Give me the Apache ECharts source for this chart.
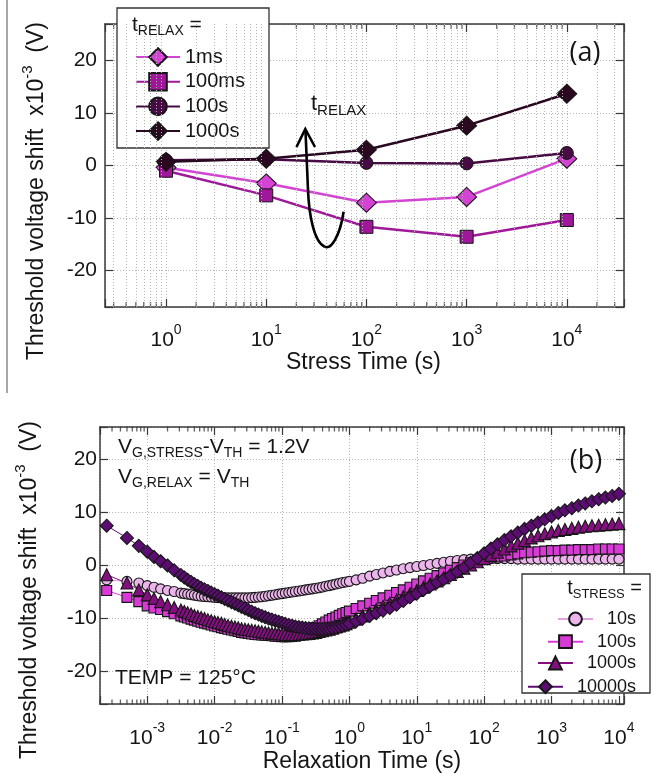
<!DOCTYPE html>
<html>
<head>
<meta charset="utf-8">
<title>Threshold voltage shift vs stress / relaxation time</title>
<script src="https://cdn.jsdelivr.net/npm/echarts@6/dist/echarts.min.js"></script>
<style>
  html, body { margin: 0; padding: 0; background: #fff; }
  #chart { width: 656px; height: 774px; }
</style>
</head>
<body>
<div id="chart"></div>
<script>
  var FONT = '"Liberation Sans", Arial, Helvetica, sans-serif'
  var INK = '#151515'

  // ---- (a) shift vs stress time, one line per relax time ----
  var STRESS_TIME = [1, 10, 100, 1000, 10000]
  var RELAX_1MS = [-0.4, -3.4, -7.1, -6.0, 1.3]
  var RELAX_100MS = [-1.0, -5.7, -11.7, -13.6, -10.4]
  var RELAX_100S = [1.0, 1.2, 0.5, 0.4, 2.4]
  var RELAX_1000S = [0.7, 1.3, 3.0, 7.6, 13.7]

  // ---- (b) shift vs relaxation time, one curve per stress time ----
  var RELAX_TIME = [
    2.5e-4, 5e-4, 7.5e-4, 1e-3, 1.26e-3, 1.58e-3, 2.0e-3, 2.51e-3,
    3.16e-3, 3.55e-3, 3.98e-3, 4.47e-3, 5.01e-3, 5.62e-3, 6.31e-3, 7.08e-3, 7.94e-3, 8.91e-3,
    0.01, 0.0112, 0.0126, 0.0141, 0.0158, 0.0178, 0.02, 0.0224, 0.0251, 0.0282,
    0.0316, 0.0355, 0.0398, 0.0447, 0.0501, 0.0562, 0.0631, 0.0708, 0.0794, 0.0891,
    0.1, 0.112, 0.126, 0.141, 0.158, 0.178, 0.2, 0.224, 0.251, 0.282,
    0.316, 0.355, 0.398, 0.447, 0.501, 0.562, 0.631, 0.708, 0.794, 0.891,
    1,
    1.26, 1.58, 2.0, 2.51, 3.16, 3.98, 5.01, 6.31, 7.94, 10,
    12.6, 15.8, 20, 25.1, 31.6, 39.8, 50.1, 63.1, 79.4, 100,
    126, 158, 200, 251, 316, 398, 501, 631, 794, 1000,
    1260, 1580, 2000, 2510, 3160, 3980, 5010, 6310, 7940, 10000
  ]
  var STRESS_10S = [
    -2.7, -3.0, -3.3, -3.8, -4.1, -4.4, -4.7, -4.9,
    -5.2, -5.3, -5.4, -5.5, -5.6, -5.7, -5.8, -5.85, -5.9, -5.95,
    -6.0, -6.05, -6.1, -6.1, -6.1, -6.1, -6.1, -6.1, -6.1, -6.1,
    -6.1, -6.05, -6.0, -5.95, -5.9, -5.8, -5.7, -5.6, -5.5, -5.4,
    -5.3, -5.2, -5.1, -5.0, -4.9, -4.8, -4.7, -4.6, -4.5, -4.4,
    -4.3, -4.2, -4.05, -3.9, -3.8, -3.65, -3.5, -3.35, -3.2, -3.1,
    -3.0,
    -2.7, -2.4, -2.0, -1.7, -1.4, -1.1, -0.85, -0.6, -0.4, -0.2,
    0.0, 0.2, 0.4, 0.6, 0.8, 0.95, 1.1, 1.2, 1.3, 1.3,
    1.3, 1.3, 1.3, 1.3, 1.2, 1.2, 1.2, 1.2, 1.2, 1.2,
    1.2, 1.2, 1.2, 1.2, 1.2, 1.2, 1.2, 1.2, 1.2, 1.2
  ]
  var STRESS_100S = [
    -4.7, -6.0, -6.8, -7.6, -8.0, -8.3, -8.7, -9.1,
    -9.5, -9.7, -9.9, -10.1, -10.3, -10.5, -10.7, -10.85, -11.0, -11.2,
    -11.4, -11.55, -11.7, -11.85, -12.0, -12.15, -12.3, -12.45, -12.6, -12.7,
    -12.8, -12.9, -13.0, -13.05, -13.1, -13.15, -13.2, -13.25, -13.3, -13.35,
    -13.4, -13.4, -13.4, -13.35, -13.3, -13.1, -12.9, -12.6, -12.3, -12.0,
    -11.7, -11.35, -11.0, -10.65, -10.3, -10.0, -9.7, -9.4, -9.1, -8.85,
    -8.6,
    -8.1, -7.6, -7.1, -6.6, -6.1, -5.6, -5.1, -4.6, -4.1, -3.5,
    -2.9, -2.4, -1.9, -1.4, -0.9, -0.4, 0.1, 0.5, 0.9, 1.2,
    1.4, 1.6, 1.8, 2.0, 2.2, 2.4, 2.5, 2.6, 2.7, 2.8,
    2.8, 2.9, 2.9, 3.0, 3.0, 3.0, 3.1, 3.1, 3.1, 3.1
  ]
  var STRESS_1000S = [
    -1.75, -3.3, -4.6, -5.5, -6.2, -6.8, -7.4, -7.9,
    -8.4, -8.65, -8.9, -9.15, -9.4, -9.6, -9.8, -10.0, -10.2, -10.4,
    -10.6, -10.75, -10.9, -11.1, -11.3, -11.45, -11.6, -11.75, -11.9, -12.0,
    -12.1, -12.2, -12.3, -12.4, -12.5, -12.6, -12.7, -12.75, -12.8, -12.85,
    -12.9, -12.95, -13.0, -13.0, -13.0, -12.95, -12.9, -12.85, -12.8, -12.7,
    -12.6, -12.45, -12.3, -12.15, -12.0, -11.8, -11.6, -11.4, -11.2, -10.95,
    -10.7,
    -10.1, -9.5, -8.9, -8.3, -7.7, -7.1, -6.5, -5.9, -5.3, -4.7,
    -4.1, -3.5, -2.9, -2.3, -1.7, -1.1, -0.5, 0.1, 0.7, 1.3,
    1.9, 2.5, 3.1, 3.7, 4.2, 4.7, 5.2, 5.6, 6.0, 6.3,
    6.6, 6.8, 7.0, 7.2, 7.4, 7.5, 7.6, 7.7, 7.8, 7.9
  ]
  var STRESS_10000S = [
    7.5, 5.2, 3.7, 2.6, 1.6, 0.8, 0.0, -0.9,
    -1.8, -2.25, -2.7, -3.1, -3.5, -3.85, -4.2, -4.5, -4.8, -5.1,
    -5.4, -5.7, -6.0, -6.3, -6.6, -6.9, -7.2, -7.5, -7.8, -8.1,
    -8.4, -8.7, -9.0, -9.25, -9.5, -9.75, -10.0, -10.2, -10.4, -10.6,
    -10.8, -11.0, -11.2, -11.35, -11.5, -11.6, -11.7, -11.8, -11.85, -11.9,
    -11.95, -11.95, -11.95, -11.9, -11.85, -11.75, -11.65, -11.5, -11.35, -11.15,
    -10.95,
    -10.5, -10.0, -9.5, -9.0, -8.5, -8.0, -7.4, -6.7, -6.0, -5.3,
    -4.6, -3.9, -3.2, -2.6, -1.9, -1.2, -0.4, 0.5, 1.4, 2.3,
    3.2, 4.0, 4.8, 5.5, 6.2, 6.9, 7.5, 8.1, 8.7, 9.3,
    9.9, 10.4, 10.8, 11.3, 11.7, 12.1, 12.5, 12.8, 13.1, 13.5
  ]

  // axis ranges and minor tick mantissas
  var TOP_X = [0.246, 37200]
  var TOP_Y = [-27, 27]
  var BOT_X = [1.99e-4, 11900]
  var BOT_Y = [-26.1, 26.1]
  var MINOR_MANTISSA = [2, 3, 4, 5, 6, 7, 8, 9]

  function pairs(xs, ys) {
    return xs.map(function (x, i) { return [x, ys[i]] })
  }

  function minorValues(range) {
    var out = []
    for (var e = -5; e <= 5; e++) {
      MINOR_MANTISSA.forEach(function (m) {
        var v = +(m * Math.pow(10, e)).toPrecision(3)
        if (v > range[0] && v < range[1]) out.push(v)
      })
    }
    return out
  }

  // only label whole decades, as 10^n
  function logLabel(v) {
    var e = Math.round(Math.log(v) / Math.LN10)
    var p = Math.pow(10, e)
    if (Math.abs(p - v) > p * 1e-6) return ''
    return '{b|10}{s|' + e + '}'
  }

  function tenLabel(v) {
    return Math.abs(v % 10) < 1e-9 ? String(Math.round(v)) : ''
  }

  var gridLine = { show: true, lineStyle: { color: '#b4b4b4', type: [1, 2], width: 1 } }
  var axisLine = { show: true, onZero: false, lineStyle: { color: '#3a3a3a', width: 1.5 } }
  var majorTick = { show: true, inside: true, length: 8, lineStyle: { color: '#3a3a3a', width: 1.2 } }
  var labelRich = {
    b: { fontSize: 21, lineHeight: 34, fontFamily: FONT, color: INK },
    s: { fontSize: 14, lineHeight: 14, verticalAlign: 'top', fontFamily: FONT, color: INK }
  }

  function logAxis(grid, range, pos, margin, labels, split) {
    return {
      type: 'log', gridIndex: grid, position: pos, min: range[0], max: range[1],
      axisLine: axisLine, axisTick: majorTick,
      splitLine: split ? gridLine : { show: false },
      axisLabel: labels ? { show: true, interval: 0, margin: margin, formatter: logLabel, rich: labelRich } : { show: false }
    }
  }

  function valueAxis(grid, range, pos, margin, labels) {
    return {
      type: 'value', gridIndex: grid, position: pos, min: range[0], max: range[1],
      axisLine: axisLine, axisTick: majorTick,
      splitLine: labels ? gridLine : { show: false },
      axisLabel: labels ? { show: true, margin: margin, formatter: tenLabel, fontSize: 21, color: INK, fontFamily: FONT } : { show: false }
    }
  }

  // small inward minor ticks along the bottom/top borders (+ optional minor gridlines)
  function tickSeries(xi, yi, xs, y, offset, withGrid) {
    var s = {
      type: 'scatter', xAxisIndex: xi, yAxisIndex: yi, silent: true, clip: false, z: 1,
      symbol: 'rect', symbolSize: [1.3, 5], symbolOffset: [0, offset],
      itemStyle: { color: '#3a3a3a' },
      data: xs.map(function (x) { return [x, y] })
    }
    if (withGrid) {
      s.markLine = {
        silent: true, symbol: ['none', 'none'], label: { show: false },
        lineStyle: { color: '#b4b4b4', type: [1, 2], width: 1 },
        data: xs.map(function (x) { return { xAxis: x } })
      }
    }
    return s
  }

  function lineSeries(name, xi, yi, data, symbol, size, color, lineColor, lineWidth, border) {
    return {
      name: name, type: 'line', xAxisIndex: xi, yAxisIndex: yi, data: data,
      symbol: symbol, symbolSize: size, z: 3,
      lineStyle: { color: lineColor, width: lineWidth },
      itemStyle: { color: color, borderColor: '#161616', borderWidth: border }
    }
  }

  function bottomLegend(name, top) {
    return {
      right: 15, top: top, orient: 'vertical', selectedMode: false,
      itemWidth: 35, itemHeight: 16,
      textStyle: { fontSize: 18, lineHeight: 18, color: INK, fontFamily: FONT, padding: [0, 0, 0, 9] },
      formatter: function (n) { return n.replace('stress ', '') },
      data: [name]
    }
  }

  function plainText(x, y, text, size, align) {
    return { type: 'text', z: 6, x: x, y: y, style: {
      text: text, fontSize: size, fontFamily: FONT, fill: INK, align: align, verticalAlign: 'middle'
    } }
  }

  function subText(x, y, main, sub, tail, size, subSize, align) {
    return { type: 'text', z: 6, x: x, y: y, style: {
      text: '{m|' + main + '}{s|' + sub + '}' + (tail ? '{m|' + tail + '}' : ''),
      align: align, verticalAlign: 'middle', fontFamily: FONT, fill: INK,
      rich: {
        m: { fontSize: size, lineHeight: size + 6, fontFamily: FONT, fill: INK },
        s: { fontSize: subSize, lineHeight: subSize, verticalAlign: 'bottom', fontFamily: FONT, fill: INK }
      }
    } }
  }

  function yTitle(x, y) {
    return { type: 'text', z: 6, x: x, y: y, rotation: Math.PI / 2, style: {
      text: 'Threshold voltage shift  x10{s|-3}  (V)', fontSize: 23, lineHeight: 34,
      fontFamily: FONT, fill: INK, align: 'center', verticalAlign: 'middle',
      rich: { s: { fontSize: 15, lineHeight: 15, verticalAlign: 'top', fontFamily: FONT, fill: INK } }
    } }
  }

  var topMinor = minorValues(TOP_X)
  var botMinor = minorValues(BOT_X)
  var arrowStyle = { stroke: '#000', fill: null, lineWidth: 2.6 }

  var chart = echarts.init(document.getElementById('chart'), null, { renderer: 'canvas' })

  var option = {
    animation: false,
    backgroundColor: '#fff',
    textStyle: { fontFamily: FONT, color: INK },
    grid: [
      { left: 105, top: 24, width: 519, height: 283, outerBoundsMode: 'none' },
      { left: 100, top: 427, width: 524, height: 277, outerBoundsMode: 'none' }
    ],
    xAxis: [
      logAxis(0, TOP_X, 'bottom', 16, true, true),
      logAxis(0, TOP_X, 'top', 0, false, false),
      logAxis(1, BOT_X, 'bottom', 17, true, true),
      logAxis(1, BOT_X, 'top', 0, false, false)
    ],
    yAxis: [
      valueAxis(0, TOP_Y, 'left', 8, true),
      valueAxis(0, TOP_Y, 'right', 0, false),
      valueAxis(1, BOT_Y, 'left', 3, true),
      valueAxis(1, BOT_Y, 'right', 0, false)
    ],
    legend: [
      {
        left: 130, top: 42, orient: 'vertical', selectedMode: false,
        itemWidth: 44, itemHeight: 22, itemGap: 4.7,
        textStyle: { fontSize: 20, lineHeight: 20, color: INK, fontFamily: FONT },
        data: ['1ms', '100ms', '100s', '1000s']
      },
      bottomLegend('stress 10s', 605),
      bottomLegend('stress 100s', 627.7),
      bottomLegend('stress 1000s', 649),
      bottomLegend('stress 10000s', 672.7)
    ],
    series: [
      tickSeries(0, 0, topMinor, TOP_Y[0], -2.5, true),
      tickSeries(0, 0, topMinor, TOP_Y[1], 2.5, false),
      tickSeries(2, 2, botMinor, BOT_Y[0], -2, false),
      tickSeries(2, 2, botMinor, BOT_Y[1], 2, false),

      lineSeries('1ms', 0, 0, pairs(STRESS_TIME, RELAX_1MS), 'diamond', [20, 19], '#d443d4', '#d443d4', 2.5, 1),
      lineSeries('100ms', 0, 0, pairs(STRESS_TIME, RELAX_100MS), 'rect', 13, '#a0189a', '#a0189a', 2.5, 1),
      lineSeries('100s', 0, 0, pairs(STRESS_TIME, RELAX_100S), 'circle', 13, '#470c43', '#470c43', 2.5, 1),
      lineSeries('1000s', 0, 0, pairs(STRESS_TIME, RELAX_1000S), 'diamond', [20, 19], '#290820', '#290820', 2.5, 1),

      lineSeries('stress 10s', 2, 2, pairs(RELAX_TIME, STRESS_10S), 'circle', 10, '#ebb4ea', '#e2a2e2', 1, 1.1),
      lineSeries('stress 100s', 2, 2, pairs(RELAX_TIME, STRESS_100S), 'rect', 10, '#d83bd5', '#d83bd5', 1, 1.1),
      lineSeries('stress 1000s', 2, 2, pairs(RELAX_TIME, STRESS_1000S), 'triangle', 12, '#850f81', '#850f81', 1, 1.1),
      lineSeries('stress 10000s', 2, 2, pairs(RELAX_TIME, STRESS_10000S), 'diamond', 13, '#5c0c72', '#5c0c72', 1, 1.1)
    ],
    graphic: [
      { type: 'line', shape: { x1: 7, y1: 0, x2: 7, y2: 393 }, style: { stroke: '#8a8a8a', lineWidth: 1.5 } },

      // y-axis titles
      yTitle(37, 191),
      yTitle(30, 590),
      // x-axis titles
      plainText(363.5, 363, 'Stress Time (s)', 23, 'center'),
      plainText(362, 762, 'Relaxation Time (s)', 23, 'center'),

      // legend boxes
      { type: 'rect', z: 3, shape: { x: 117, y: 8, width: 152, height: 140 },
        style: { fill: '#fff', stroke: '#333', lineWidth: 1.3 } },
      { type: 'rect', z: 3, shape: { x: 522, y: 574, width: 128, height: 119 },
        style: { fill: '#fff', stroke: '#333', lineWidth: 1.3 } },
      subText(132, 25, 't', 'RELAX', ' =', 21, 14, 'left'),
      subText(642, 588, 't', 'STRESS', ' =', 20, 13, 'right'),

      // annotations
      subText(311, 104, 't', 'RELAX', '', 22, 15, 'left'),
      { type: 'text', z: 6, x: 118, y: 447, style: {
        text: 'V{s|G,STRESS}-V{s|TH} = 1.2V', fontSize: 21, lineHeight: 26, fontFamily: FONT, fill: INK,
        align: 'left', verticalAlign: 'middle',
        rich: { s: { fontSize: 14, lineHeight: 14, verticalAlign: 'bottom', fontFamily: FONT, fill: INK } }
      } },
      { type: 'text', z: 6, x: 118, y: 477, style: {
        text: 'V{s|G,RELAX} = V{s|TH}', fontSize: 21, lineHeight: 26, fontFamily: FONT, fill: INK,
        align: 'left', verticalAlign: 'middle',
        rich: { s: { fontSize: 14, lineHeight: 14, verticalAlign: 'bottom', fontFamily: FONT, fill: INK } }
      } },
      plainText(115, 678, 'TEMP = 125°C', 21, 'left'),
      { type: 'text', z: 6, x: 585, y: 53, style: { text: '(a)', fontSize: 27, fontFamily: '"Open Sans", sans-serif', fill: INK, align: 'center', verticalAlign: 'middle' } },
      { type: 'text', z: 6, x: 586, y: 461, style: { text: '(b)', fontSize: 27, fontFamily: '"Open Sans", sans-serif', fill: INK, align: 'center', verticalAlign: 'middle' } },

      // curved arrow next to t_RELAX
      { type: 'bezierCurve', z: 6, style: arrowStyle,
        shape: { x1: 343.6, y1: 211.7, cpx1: 340, cpy1: 236, cpx2: 331, cpy2: 250, x2: 324.7, y2: 246.7 } },
      { type: 'bezierCurve', z: 6, style: arrowStyle,
        shape: { x1: 324.7, y1: 246.7, cpx1: 314, cpy1: 242, cpx2: 309, cpy2: 215, x2: 308, y2: 190 } },
      { type: 'line', z: 6, style: arrowStyle, shape: { x1: 308, y1: 190, x2: 305.5, y2: 131 } },
      { type: 'polyline', z: 6, shape: { points: [[296.5, 147], [305.3, 129], [315, 147]] }, style: arrowStyle }
    ]
  }

  chart.setOption(option)
</script>
</body>
</html>
